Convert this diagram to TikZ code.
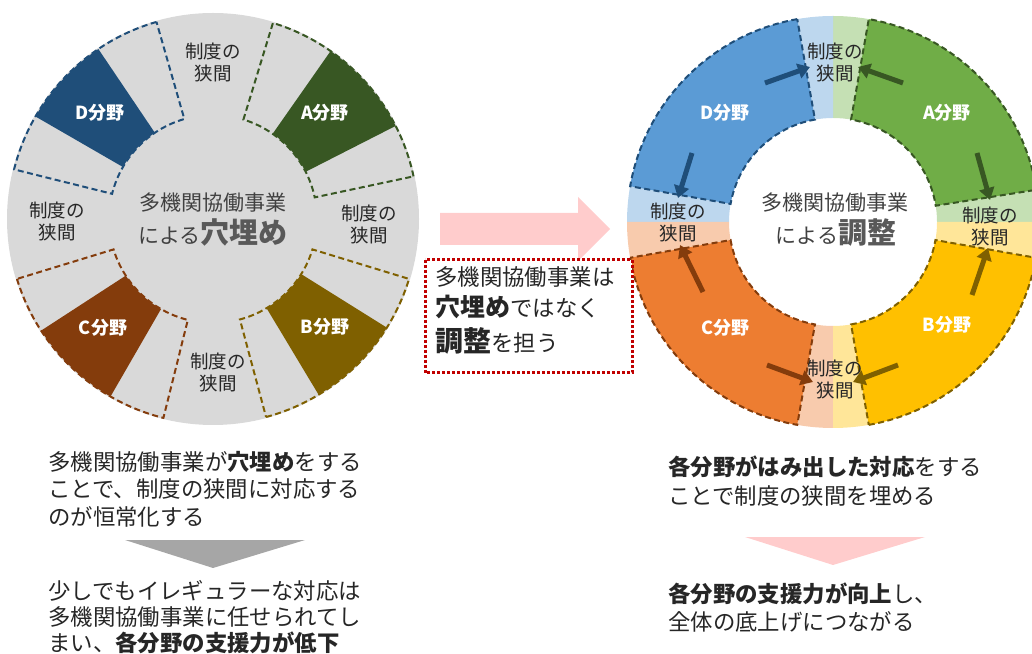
\documentclass[tikz,border=0pt]{standalone}
\usepackage{fontspec}
\setmainfont{Noto Sans CJK JP}
\usetikzlibrary{arrows.meta}
\definecolor{greyc}{HTML}{D9D9D9}
\definecolor{txt}{HTML}{262626}
\definecolor{ctxt}{HTML}{404040}
\definecolor{ctxtb}{HTML}{595959}
\definecolor{Adk}{HTML}{385723}
\definecolor{Bdk}{HTML}{7F6000}
\definecolor{Cdk}{HTML}{843C0C}
\definecolor{Ddk}{HTML}{1F4E79}
\definecolor{Amd}{HTML}{70AD47}
\definecolor{Bmd}{HTML}{FFC000}
\definecolor{Cmd}{HTML}{ED7D31}
\definecolor{Dmd}{HTML}{5B9BD5}
\definecolor{Alt}{HTML}{C5E0B4}
\definecolor{Blt}{HTML}{FFE699}
\definecolor{Clt}{HTML}{F8CBAD}
\definecolor{Dlt}{HTML}{BDD7EE}
\definecolor{pinkc}{HTML}{FFCCCC}
\definecolor{redc}{HTML}{C00000}
\definecolor{trig}{HTML}{A6A6A6}
\newcommand\ringsec[4]{(#1:#4) arc[start angle=#1,end angle=#2,radius=#4] -- (#2:#3) arc[start angle=#2,end angle=#1,radius=#3] -- cycle}
\tikzset{
  lbl/.style={align=center, font=\fontsize{18.5pt}{22pt}\selectfont, text=txt, inner sep=0pt},
  fld/.style={font=\bfseries\fontsize{18pt}{20pt}\selectfont, text=white, inner sep=0pt},
  body/.style={anchor=base west, inner sep=0pt, font=\fontsize{22.4pt}{27pt}\selectfont, text=txt},
  ctr/.style={anchor=base, inner sep=0pt, font=\fontsize{21pt}{21pt}\selectfont, text=ctxt},
  dashln/.style={dash pattern=on 6pt off 3.5pt, line width=2pt},
  arr/.style={line width=5pt, -{Triangle[length=12pt,width=15pt]}},
}
\begin{document}
\begin{tikzpicture}[x=1pt,y=1pt]
\useasboundingbox (0,0) rectangle (1032,653);
% ---------- left circle ----------
\begin{scope}[shift={(213,434)}]
  \fill[greyc] (0,0) circle[radius=206pt];
  \draw[dashln, draw=Adk] \ringsec{12}{73}{104pt}{205pt};
  \draw[dashln, draw=Ddk] \ringsec{106}{166}{104pt}{205pt};
  \draw[dashln, draw=Cdk] \ringsec{197}{256}{104pt}{205pt};
  \draw[dashln, draw=Bdk] \ringsec{285}{343}{104pt}{205pt};
  \fill[Adk] \ringsec{27}{55}{104pt}{205pt};
  \fill[Ddk] \ringsec{124}{150}{104pt}{205pt};
  \fill[Cdk] \ringsec{213}{240}{104pt}{205pt};
  \fill[Bdk] \ringsec{301}{328}{104pt}{205pt};
\end{scope}
\node[fld] (lA) at (325,540) {A分野};
\node[fld] (lD) at (100,540) {D分野};
\node[fld] (lB) at (325,326) {B分野};
\node[fld] (lC) at (103,325) {C分野};
\node[lbl] (lg1) at (213,591) {制度の\\狭間};
\node[lbl] (lg2) at (57,432) {制度の\\狭間};
\node[lbl] (lg3) at (369,429) {制度の\\狭間};
\node[lbl] (lg4) at (218,281) {制度の\\狭間};
\node[ctr] (lc1) at (213,442) {多機関協働事業};
\node[ctr] (lc2) at (213,409) {による{\bfseries\fontsize{29pt}{29pt}\selectfont\color{ctxtb}穴埋め}};
% ---------- right donut ----------
\begin{scope}[shift={(833,431)}]
  \fill[Alt] \ringsec{0}{90}{104pt}{206pt};
  \fill[Dlt] \ringsec{90}{180}{104pt}{206pt};
  \fill[Clt] \ringsec{180}{270}{104pt}{206pt};
  \fill[Blt] \ringsec{270}{360}{104pt}{206pt};
  \filldraw[dashln, fill=Amd, draw=Adk] \ringsec{9}{80}{104pt}{206pt};
  \filldraw[dashln, fill=Dmd, draw=Ddk] \ringsec{100}{170}{104pt}{206pt};
  \filldraw[dashln, fill=Cmd, draw=Cdk] \ringsec{190}{260}{104pt}{206pt};
  \filldraw[dashln, fill=Bmd, draw=Bdk] \ringsec{280}{350}{104pt}{206pt};
\end{scope}
\node[fld] (rA) at (947,540) {A分野};
\node[fld] (rD) at (725,540) {D分野};
\node[fld] (rB) at (947,328) {B分野};
\node[fld] (rC) at (725,325) {C分野};
\coordinate (d1s) at (765,570); \coordinate (d1e) at (810,586);
\coordinate (a1s) at (903,570); \coordinate (a1e) at (858,586);
\coordinate (a2s) at (977,500); \coordinate (a2e) at (990,453);
\coordinate (b1s) at (972,358); \coordinate (b1e) at (988,405);
\coordinate (b2s) at (898,288); \coordinate (b2e) at (853,271);
\coordinate (c1s) at (767,288); \coordinate (c1e) at (813,271);
\coordinate (c2s) at (703,361); \coordinate (c2e) at (680,408);
\coordinate (d2s) at (692,500); \coordinate (d2e) at (678,455);
\draw[arr, Ddk] (d1s) -- (d1e);
\draw[arr, Adk] (a1s) -- (a1e);
\draw[arr, Adk] (a2s) -- (a2e);
\draw[arr, Bdk] (b1s) -- (b1e);
\draw[arr, Bdk] (b2s) -- (b2e);
\draw[arr, Cdk] (c1s) -- (c1e);
\draw[arr, Cdk] (c2s) -- (c2e);
\draw[arr, Ddk] (d2s) -- (d2e);
\node[lbl] (rg1) at (835,591) {制度の\\狭間};
\node[lbl] (rg2) at (990,427) {制度の\\狭間};
\node[lbl] (rg3) at (835,274) {制度の\\狭間};
\node[lbl] (rg4) at (678,431) {制度の\\狭間};
\node[ctr] (rc1) at (835,442) {多機関協働事業};
\node[ctr] (rc2) at (836,409) {による{\bfseries\fontsize{29pt}{29pt}\selectfont\color{ctxtb}調整}};
% ---------- middle ----------
\fill[pinkc] (440,408) -- (578,408) -- (578,392) -- (610,424) -- (578,456) -- (578,440) -- (440,440) -- cycle;
\draw[redc, fill=white, line width=3pt, dash pattern=on 3pt off 2pt] (425,393) rectangle (632,280);
\node[body] (b1) at (435,367) {多機関協働事業は};
\node[body] (b2) at (435,336) {{\bfseries\fontsize{25pt}{25pt}\selectfont 穴埋め}ではなく};
\node[body] (b3) at (435,301) {{\bfseries\fontsize{28pt}{28pt}\selectfont 調整}を担う};
% ---------- bottom left ----------
\node[body] (l1) at (48,182) {多機関協働事業が{\bfseries 穴埋め}をする};
\node[body] (l2) at (48,155) {ことで、制度の狭間に対応する};
\node[body] (l3) at (48,128) {のが恒常化する};
\fill[trig] (125,113) -- (305,113) -- (213,85) -- cycle;
\node[body] (l4) at (48,54) {少しでもイレギュラーな対応は};
\node[body] (l5) at (48,28) {多機関協働事業に任せられてし};
\node[body] (l6) at (48,2) {まい、{\bfseries 各分野の支援力が低下}};
% ---------- bottom right ----------
\node[body] (r1) at (668,177) {{\bfseries 各分野がはみ出した対応}をする};
\node[body] (r2) at (668,149) {ことで制度の狭間を埋める};
\fill[pinkc] (745,116) -- (925,116) -- (833,88) -- cycle;
\node[body] (r3) at (668,51) {{\bfseries 各分野の支援力が向上}し、};
\node[body] (r4) at (668,23) {全体の底上げにつながる};
\end{tikzpicture}
\end{document}
